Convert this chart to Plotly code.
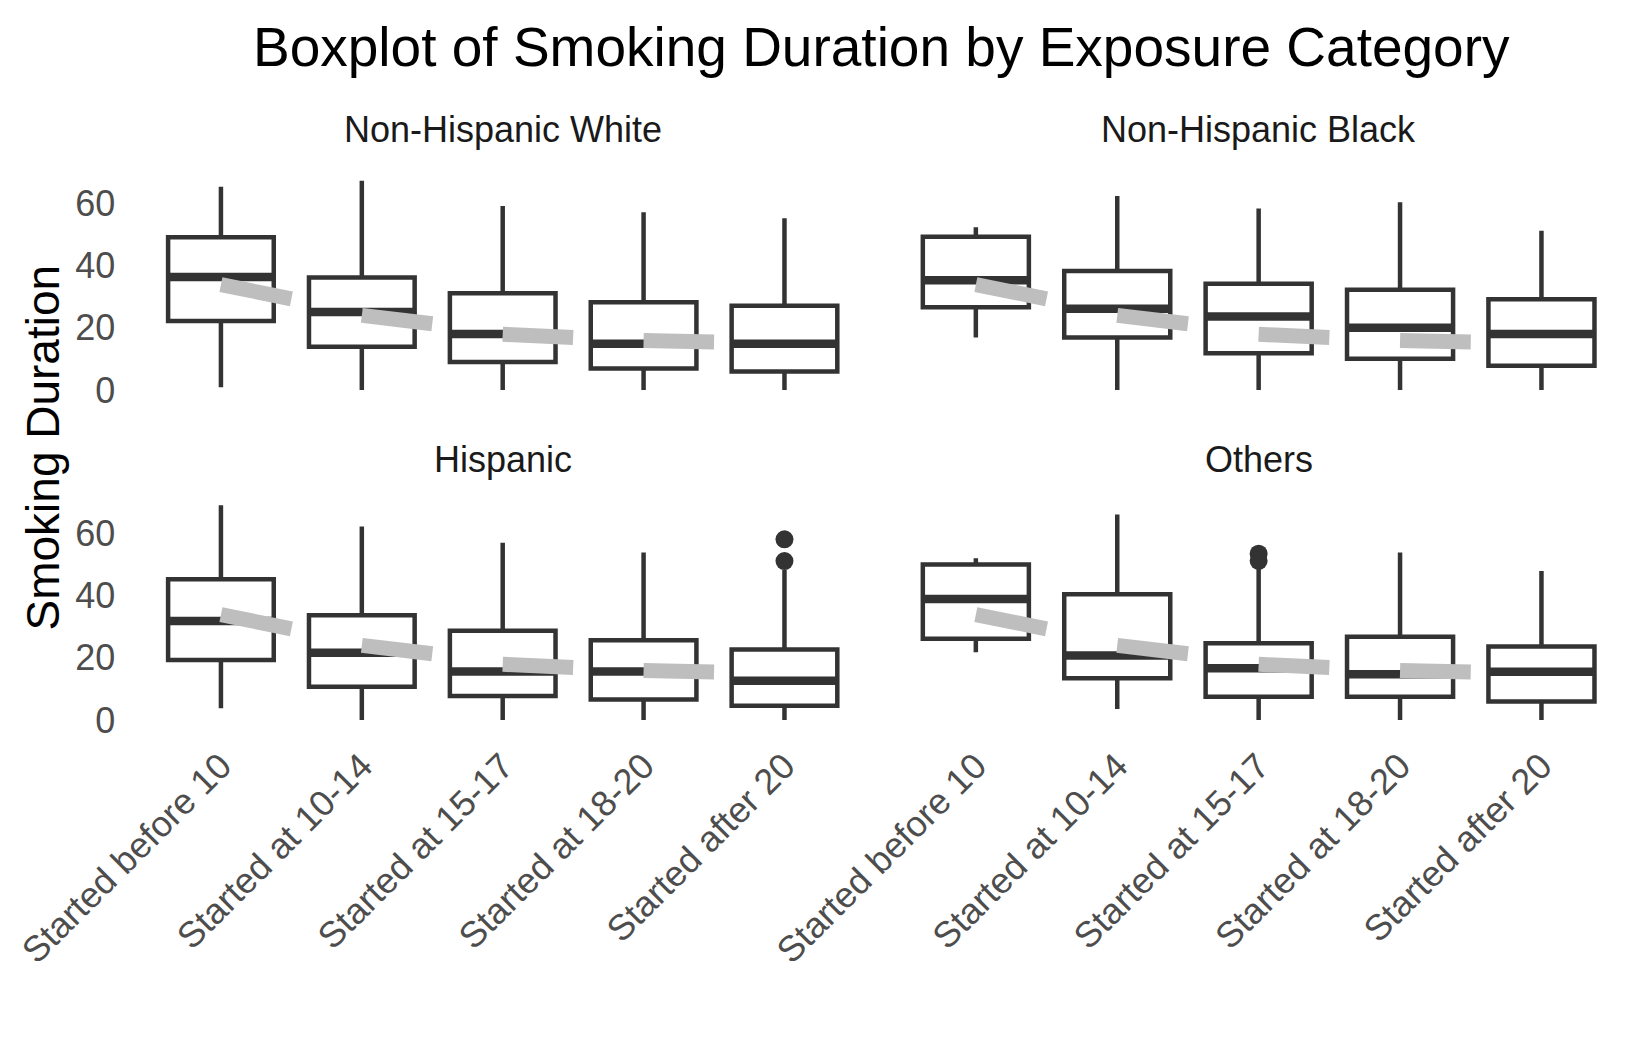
import plotly.graph_objects as go

# ---------------- data ----------------
categories = ["Started before 10", "Started at 10-14", "Started at 15-17",
              "Started at 18-20", "Started after 20"]
groups = ["Non-Hispanic White", "Non-Hispanic Black", "Hispanic", "Others"]

nhw_lower = [0.9, 0, 0, 0, 0]
nhw_q1 = [22.2, 13.9, 9.0, 6.9, 5.9]
nhw_median = [36.3, 25.1, 18.0, 14.9, 14.9]
nhw_q3 = [49.1, 36.2, 31.1, 28.2, 27.1]
nhw_upper = [65.4, 67.3, 59.2, 57.2, 55.2]
nhw_outliers = [[], [], [], [], []]

nhb_lower = [16.9, 0, 0, 0, 0]
nhb_q1 = [26.6, 16.9, 11.8, 10.0, 7.8]
nhb_median = [35.3, 26.1, 23.6, 20.0, 18.0]
nhb_q3 = [49.3, 38.3, 34.2, 32.2, 29.2]
nhb_upper = [52.3, 62.4, 58.4, 60.4, 51.2]
nhb_outliers = [[], [], [], [], []]

his_lower = [3.8, 0, 0, 0, 0]
his_q1 = [19.3, 10.7, 7.7, 6.6, 4.6]
his_median = [31.8, 21.6, 15.6, 15.6, 12.6]
his_q3 = [45.3, 33.7, 28.7, 25.6, 22.7]
his_upper = [69.1, 62.2, 57.0, 53.9, 48.2]
his_outliers = [[], [], [], [], [51.1, 58.1]]

oth_lower = [21.8, 3.5, 0, 0, 0]
oth_q1 = [26.1, 13.4, 7.5, 7.5, 5.9]
oth_median = [38.9, 20.7, 16.6, 14.7, 15.5]
oth_q3 = [50.0, 40.4, 24.7, 26.8, 23.6]
oth_upper = [52.0, 66.1, 49.3, 53.9, 47.9]
oth_outliers = [[], [], [51.2, 53.5], [], []]

# grey trend segments (same in each panel): value at category i and half-way to next
trend_start = [33.9, 24.0, 17.9, 15.9]
trend_end = [29.3, 21.3, 16.9, 15.4]

tick_values = [0, 20, 40, 60]

# ---------------- styling / layout ----------------
W, H = 1649, 1049
FONT = "Liberation Sans, Arial, sans-serif"
DARK = "#333333"
BOX_W = 0.75
HALF_STEP = 0.5

panels = [
    (groups[0], nhw_lower, nhw_q1, nhw_median, nhw_q3, nhw_upper, nhw_outliers),
    (groups[1], nhb_lower, nhb_q1, nhb_median, nhb_q3, nhb_upper, nhb_outliers),
    (groups[2], his_lower, his_q1, his_median, his_q3, his_upper, his_outliers),
    (groups[3], oth_lower, oth_q1, oth_median, oth_q3, oth_upper, oth_outliers),
]

# pixel geometry of panels (left, right) and (top, bottom)
x_px = [(136.4, 869.0), (891.0, 1626.3)]
y_px = [(164.4, 400.7), (494.4, 730.7)]

all_vals = [v for p in panels for arr in p[1:6] for v in arr]
ymax = max(all_vals)
ymin = 0
pad = 0.05 * (ymax - ymin)
yrange = [ymin - pad, ymax + pad]
n = len(categories)
xrange = [-0.6, n - 1 + 0.6]
xs = list(range(n))

fig = go.Figure()

for k, (name, lo, q1, med, q3, up, outl) in enumerate(panels):
    ax = "" if k == 0 else str(k + 1)
    xa, ya = "x" + ax, "y" + ax
    fig.add_trace(go.Box(
        x=xs, lowerfence=lo, q1=q1, median=med, q3=q3, upperfence=up,
        width=BOX_W, boxpoints=False, fillcolor="white",
        line=dict(color=DARK, width=4.5), whiskerwidth=0,
        xaxis=xa, yaxis=ya, showlegend=False, hoverinfo="skip"))
    # thicker median bars
    mx, my = [], []
    for i, m in enumerate(med):
        mx += [i - BOX_W / 2, i + BOX_W / 2, None]
        my += [m, m, None]
    fig.add_trace(go.Scatter(x=mx, y=my, mode="lines",
                             line=dict(color=DARK, width=8.5),
                             xaxis=xa, yaxis=ya, showlegend=False, hoverinfo="skip"))
    # outliers
    ox, oy = [], []
    for i, vals in enumerate(outl):
        for v in vals:
            ox.append(i)
            oy.append(v)
    if ox:
        fig.add_trace(go.Scatter(x=ox, y=oy, mode="markers",
                                 marker=dict(color=DARK, size=18),
                                 xaxis=xa, yaxis=ya, showlegend=False, hoverinfo="skip"))
    # grey trend segments
    tx, ty = [], []
    for i, (s, e) in enumerate(zip(trend_start, trend_end)):
        tx += [i, i + HALF_STEP, None]
        ty += [s, e, None]
    fig.add_trace(go.Scatter(x=tx, y=ty, mode="lines",
                             line=dict(color="#bebebe", width=15),
                             xaxis=xa, yaxis=ya, showlegend=False, hoverinfo="skip"))

layout = dict(
    width=W, height=H, margin=dict(l=0, r=0, t=0, b=0, autoexpand=False),
    paper_bgcolor="white", plot_bgcolor="white", showlegend=False,
    font=dict(family=FONT, color="#4d4d4d"),
)
annotations = []
for k in range(4):
    row, col = divmod(k, 2)
    ax = "" if k == 0 else str(k + 1)
    xl, xr = x_px[col]
    yt, yb = y_px[row]
    layout["xaxis" + ax] = dict(
        domain=[xl / W, xr / W], range=xrange, anchor="y" + ax,
        tickmode="array", tickvals=xs, ticktext=categories,
        showticklabels=(row == 1), tickangle=-45, automargin=False,
        tickfont=dict(size=36, color="#4d4d4d", family=FONT),
        showgrid=False, zeroline=False, showline=False, ticks="",
        ticklabelstandoff=6)
    layout["yaxis" + ax] = dict(
        domain=[1 - yb / H, 1 - yt / H], range=yrange, anchor="x" + ax,
        tickmode="array", tickvals=tick_values, automargin=False,
        showticklabels=(col == 0),
        tickfont=dict(size=36, color="#4d4d4d", family=FONT),
        showgrid=False, zeroline=False, showline=False, ticks="",
        ticklabelstandoff=20)
    annotations.append(dict(
        text=groups[k], x=(xl + xr) / 2 / W, y=1 - (yt - 34.5) / H,
        xref="paper", yref="paper", xanchor="center", yanchor="middle",
        showarrow=False, font=dict(size=36, color="#1a1a1a", family=FONT)))

annotations.append(dict(
    text="Boxplot of Smoking Duration by Exposure Category",
    x=881.5 / W, y=1 - 47 / H, xref="paper", yref="paper",
    xanchor="center", yanchor="middle", showarrow=False,
    font=dict(size=55, color="black", family=FONT)))
annotations.append(dict(
    text="Smoking Duration", x=42 / W, y=1 - 447.5 / H,
    xref="paper", yref="paper", xanchor="center", yanchor="middle",
    textangle=-90, showarrow=False,
    font=dict(size=46, color="black", family=FONT)))
layout["annotations"] = annotations

fig.update_layout(**layout)
fig.write_html("out.html")
